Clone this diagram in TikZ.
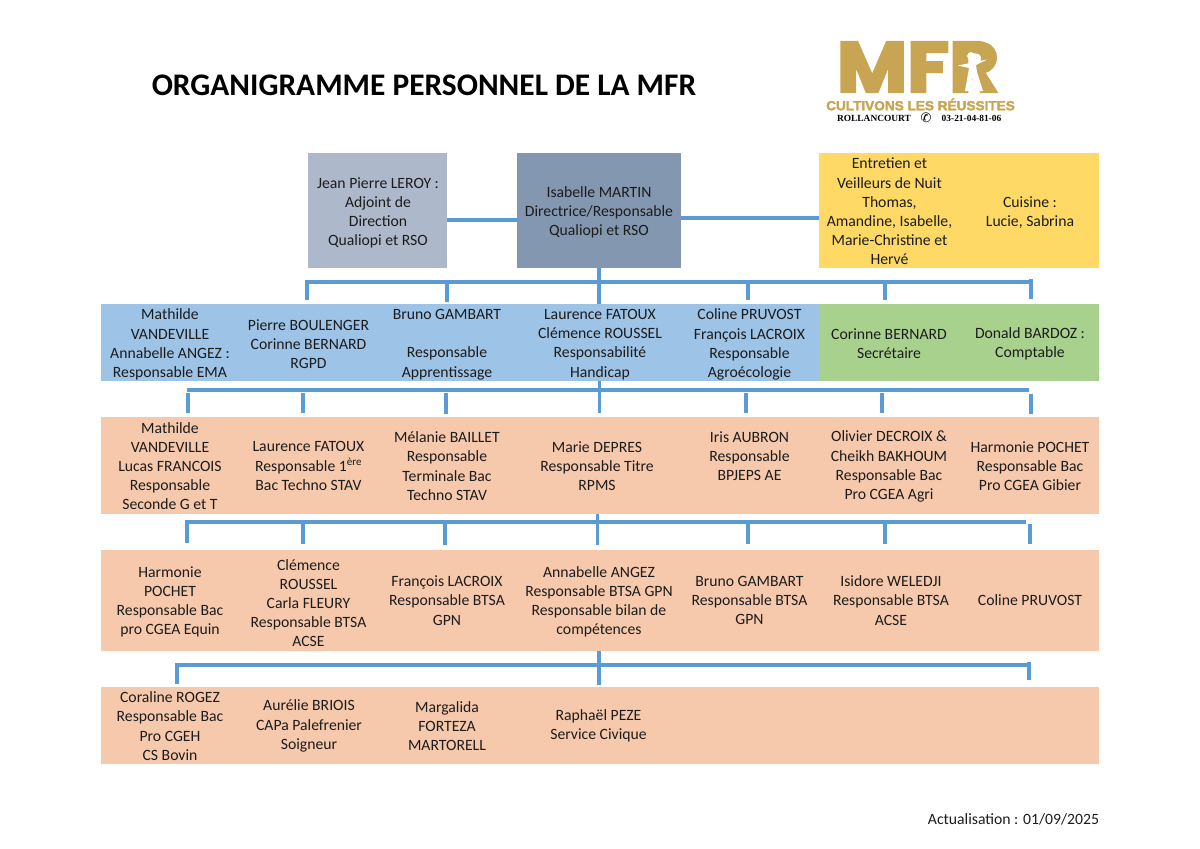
\documentclass[tikz,border=0pt]{standalone}
\usepackage{fontspec}
\setmainfont{Carlito}
\newfontfamily\logofont[FakeBold=3.5]{Poppins}
\newfontfamily\logotag[FakeBold=2.5]{Liberation Sans}
\newfontfamily\logoserif{Liberation Serif}
\newfontfamily\symfont{DejaVu Sans}
\definecolor{ink}{HTML}{1C1C1C}
\definecolor{linkblue}{HTML}{5B9BD5}
\definecolor{greybox}{HTML}{ADB9CA}
\definecolor{slatebox}{HTML}{8497B0}
\definecolor{yellowbox}{HTML}{FFD966}
\definecolor{bluebox}{HTML}{9DC3E6}
\definecolor{greenbox}{HTML}{A9D18E}
\definecolor{peachbox}{HTML}{F7C9AC}
\definecolor{gold}{HTML}{C8A552}
\tikzset{
  band/.style={inner sep=0pt,outer sep=0pt,draw=none},
  cell/.style={inner sep=0pt,outer sep=0pt,align=center,text=ink,font=\fontsize{15.7}{19.2}\selectfont},
  link/.style={draw=linkblue,line width=3.2pt},
  drop/.style={draw=linkblue,line width=3.6pt},
}
\begin{document}
\begin{tikzpicture}[x=1pt,y=-1pt]
\useasboundingbox (0,0) rectangle (1200,849);
% title
\node[inner sep=0pt,text=black,font=\fontsize{31.4}{33}\selectfont\bfseries] (title) at (424,85) {ORGANIGRAMME PERSONNEL DE LA MFR};
% logo
\node[inner sep=0pt,text=gold,font=\fontsize{71}{71}\logofont\bfseries] (logo) at (918,67) {\scalebox{1.08}[1]{MFR}};
\fill[white] (971,56) circle (3.9);
\fill[white] (958,65.5) -- (987,59.5) -- (976,65) -- (977,72) -- (983,91) -- (978,91) -- (972,78) -- (969,91) -- (965,91) -- (969,68) -- cycle;
\node[inner sep=0pt,text=gold,font=\fontsize{13.2}{14}\logotag\bfseries] (tag) at (920.5,104.5) {\scalebox{1.03}[1]{CULTIVONS LES RÉUSSITES}};
\node[inner sep=0pt,text=black,font=\fontsize{9.4}{10}\logoserif\bfseries] (place) at (874,118.5) {ROLLANCOURT};
\node[inner sep=0pt,text=black,font=\fontsize{13}{13}\symfont] (phone) at (926,117.5) {✆};
\node[inner sep=0pt,text=black,font=\fontsize{9.4}{10}\logoserif\bfseries] (tel) at (971.5,118.5) {03-21-04-81-06};
% bands
\node[band,fill=greybox,minimum width=139pt,minimum height=115pt] (leroy) at (377.5,210.5) {};
\node[band,fill=slatebox,minimum width=164pt,minimum height=115pt] (martin) at (599,210.5) {};
\node[band,fill=yellowbox,minimum width=280pt,minimum height=115pt] (staff) at (959,210.5) {};
\node[band,fill=bluebox,minimum width=718pt,minimum height=77pt] (resp) at (460,342.5) {};
\node[band,fill=greenbox,minimum width=280pt,minimum height=77pt] (admin) at (959,342.5) {};
\node[band,fill=peachbox,minimum width=998pt,minimum height=97pt] (rowa) at (600,465.5) {};
\node[band,fill=peachbox,minimum width=998pt,minimum height=101pt] (rowb) at (600,600.5) {};
\node[band,fill=peachbox,minimum width=998pt,minimum height=77pt] (rowc) at (600,725.5) {};
% connectors
\coordinate (bus1a) at (307,282);
\coordinate (bus1b) at (1033,282);
\coordinate (bus2a) at (187,390);
\coordinate (bus2b) at (1029,390);
\coordinate (bus3a) at (186,522);
\coordinate (bus3b) at (1026,522);
\coordinate (bus4a) at (176,665);
\coordinate (bus4b) at (1031,665);
\draw[link] (leroy.east |- 0,220) -- (martin.west |- 0,220);
\draw[link] (martin.east |- 0,218) -- (staff.west |- 0,218);
\draw[link] (bus1a) -- (bus1b);
\draw[link] (bus2a) -- (bus2b);
\draw[link] (bus3a) -- (bus3b);
\draw[link] (bus4a) -- (bus4b);
\draw[drop] (martin.south) -- (martin.south |- resp.north);
\draw[drop] (599.5,381) -- (599.5,413);
\draw[drop] (597.5,514) -- (597.5,545);
\draw[drop] (599,651) -- (599,685);
\foreach \n/\x/\ya/\yb in {a/307/280/300,b/447/282/302,c/748/282/300,d/885/282/300,e/1031/279/299,
  f/188/393/413,g/303/393/413,h/446/393/414,i/746/393/413,j/882/393/413,k/1031/394/414,
  l/187/520/543,m/303/523/544,n/445/523/545,o/748/523/544,p/885/523/544,q/1030/524/544,
  r/177/663/684,s/1029/662/680}{
  \coordinate (top\n) at (\x,\ya);
  \coordinate (end\n) at (\x,\yb);
  \draw[drop] (top\n) -- (end\n);
}
% row 1 text
\node[cell] (t11) at (378,213) {Jean Pierre LEROY :\\Adjoint de\\Direction\\Qualiopi et RSO};
\node[cell] (t12) at (599,212.5) {Isabelle MARTIN\\Directrice/Responsable\\Qualiopi et RSO};
\node[cell] (t13) at (889.5,211.5) {Entretien et\\Veilleurs de Nuit\\Thomas,\\Amandine, Isabelle,\\Marie-Christine et\\Hervé};
\node[cell] (t14) at (1030,212.5) {Cuisine :\\Lucie, Sabrina};
% row 2 text
\node[cell] (t21) at (170,344.5) {Mathilde\\VANDEVILLE\\Annabelle ANGEZ :\\Responsable EMA};
\node[cell] (t22) at (308.5,344) {Pierre BOULENGER\\Corinne BERNARD\\RGPD};
\node[cell] (t23) at (447,344.5) {Bruno GAMBART\\[19.2pt]Responsable\\Apprentissage};
\node[cell] (t24) at (600,344.5) {Laurence FATOUX\\Clémence ROUSSEL\\Responsabilité\\Handicap};
\node[cell] (t25) at (749.5,344.5) {Coline PRUVOST\\François LACROIX\\Responsable\\Agroécologie};
\node[cell] (t26) at (889,344) {Corinne BERNARD\\Secrétaire};
\node[cell] (t27) at (1030,344) {Donald BARDOZ :\\Comptable};
% row 3 text
\node[cell] (t31) at (170,466) {Mathilde\\VANDEVILLE\\Lucas FRANCOIS\\Responsable\\Seconde G et T};
\node[cell] (t32) at (308.5,466) {Laurence FATOUX\\Responsable 1\textsuperscript{ère}\\Bac Techno STAV};
\node[cell] (t33) at (447,466) {Mélanie BAILLET\\Responsable\\Terminale Bac\\Techno STAV};
\node[cell] (t34) at (597,466) {Marie DEPRES\\Responsable Titre\\RPMS};
\node[cell] (t35) at (749.5,456) {Iris AUBRON\\Responsable\\BPJEPS AE};
\node[cell] (t36) at (889,466.5) {Olivier DECROIX \&\\Cheikh BAKHOUM\\Responsable Bac\\Pro CGEA Agri};
\node[cell] (t37) at (1030,466) {Harmonie POCHET\\Responsable Bac\\Pro CGEA Gibier};
% row 4 text
\node[cell] (t41) at (170,602) {Harmonie\\POCHET\\Responsable Bac\\pro CGEA Equin};
\node[cell] (t42) at (308.5,603) {Clémence\\ROUSSEL\\Carla FLEURY\\Responsable BTSA\\ACSE};
\node[cell] (t43) at (447,600.5) {François LACROIX\\Responsable BTSA\\GPN};
\node[cell] (t44) at (599,602) {Annabelle ANGEZ\\Responsable BTSA GPN\\Responsable bilan de\\compétences};
\node[cell] (t45) at (749.5,600.5) {Bruno GAMBART\\Responsable BTSA\\GPN};
\node[cell] (t46) at (891,600.5) {Isidore WELEDJI\\Responsable BTSA\\ACSE};
\node[cell] (t47) at (1030,600.5) {Coline PRUVOST};
% row 5 text
\node[cell] (t51) at (170,726) {Coraline ROGEZ\\Responsable Bac\\Pro CGEH\\CS Bovin};
\node[cell] (t52) at (309,726) {Aurélie BRIOIS\\CAPa Palefrenier\\Soigneur};
\node[cell] (t53) at (447,726) {Margalida\\FORTEZA\\MARTORELL};
\node[cell] (t54) at (598.5,725.5) {Raphaël PEZE\\Service Civique};
% footer
\node[cell,anchor=east] (update) at (1099,819) {Actualisation : 01/09/2025};
\end{tikzpicture}
\end{document}
